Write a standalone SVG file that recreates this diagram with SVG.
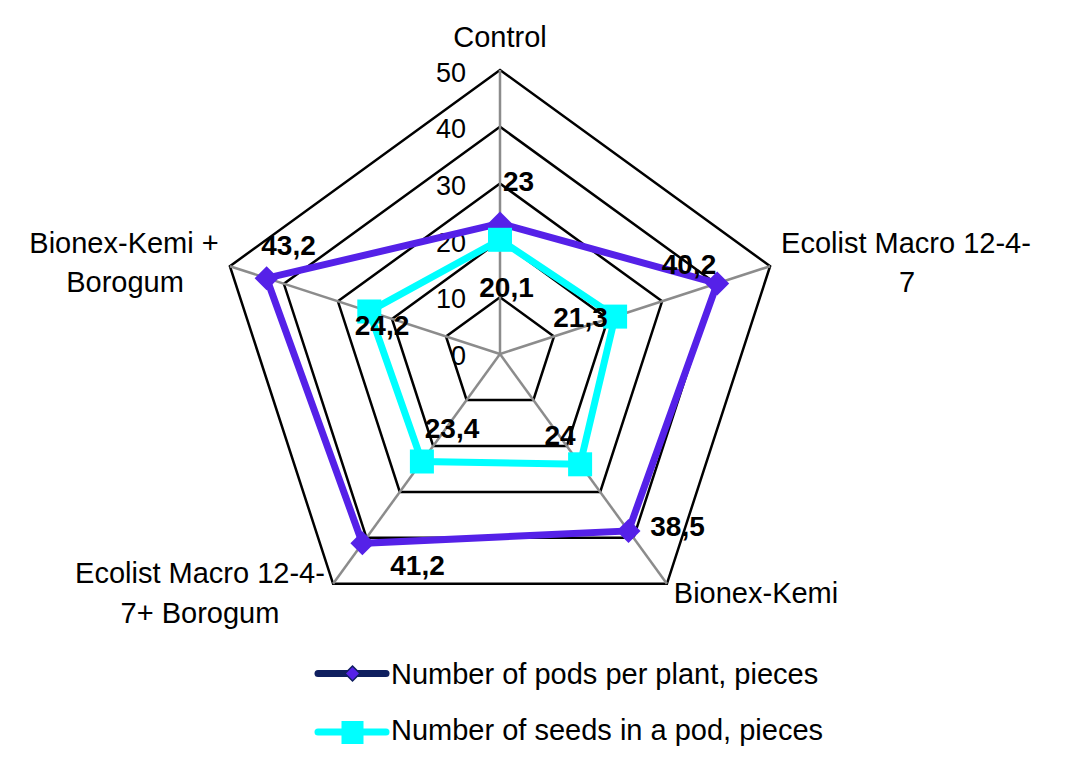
<svg xmlns="http://www.w3.org/2000/svg" width="1071" height="757" viewBox="0 0 1071 757">
<style>
.ring{fill:none;stroke:#000;stroke-width:2.5;stroke-linejoin:miter}
.spoke{stroke:#8c8c8c;stroke-width:2.5}
.t{font-family:"Liberation Sans",Arial,sans-serif;font-size:29px;fill:#000}
.tick{font-family:"Liberation Sans",Arial,sans-serif;font-size:27px;fill:#000;text-anchor:end}
.v{font-family:"Liberation Sans",Arial,sans-serif;font-size:28px;font-weight:bold;fill:#000;text-anchor:middle}
.m{text-anchor:middle}
.pods{fill:none;stroke:#5521E8;stroke-width:7;stroke-linejoin:miter}
.seeds{fill:none;stroke:#00FFFF;stroke-width:7;stroke-linejoin:miter}
.dia{fill:#5521E8}
.sq{fill:#00FFFF}
</style>
<defs>
<path id="dmk" d="M0,-12 L12,0 L0,12 L-12,0 Z"/>
<rect id="smk" x="-12" y="-12" width="24" height="24"/>
</defs>
<rect width="1071" height="757" fill="#fff"/>
<g id="grid">
<polygon class="ring" points="500,297.2 554,336.4 533.4,400 466.6,400 446,336.4"/>
<polygon class="ring" points="500,240.4 608,318.9 566.8,445.9 433.2,445.9 392,318.9"/>
<polygon class="ring" points="500,183.6 662.1,301.3 600.2,491.9 399.8,491.9 337.9,301.3"/>
<polygon class="ring" points="500,126.8 716.1,283.8 633.5,537.8 366.5,537.8 283.9,283.8"/>
<polygon class="ring" points="500,70 770.1,266.2 666.9,583.8 333.1,583.8 229.9,266.2"/>
<line class="spoke" x1="500" y1="354" x2="500" y2="70"/>
<line class="spoke" x1="500" y1="354" x2="770.1" y2="266.2"/>
<line class="spoke" x1="500" y1="354" x2="666.9" y2="583.8"/>
<line class="spoke" x1="500" y1="354" x2="333.1" y2="583.8"/>
<line class="spoke" x1="500" y1="354" x2="229.9" y2="266.2"/>
</g>
<g id="ticks">
<text class="tick" x="466" y="82">50</text>
<text class="tick" x="466" y="138">40</text>
<text class="tick" x="466" y="195">30</text>
<text class="tick" x="466" y="252">20</text>
<text class="tick" x="466" y="308">10</text>
<text class="tick" x="466" y="365">0</text>
</g>
<g id="categories">
<text class="t m" x="500" y="47">Control</text>
<text class="t m" x="906" y="253">Ecolist Macro 12-4-</text>
<text class="t m" x="907" y="292">7</text>
<text class="t m" x="756" y="603">Bionex-Kemi</text>
<text class="t m" x="200" y="583">Ecolist Macro 12-4-</text>
<text class="t m" x="200" y="623">7+ Borogum</text>
<text class="t m" x="124" y="253">Bionex-Kemi +</text>
<text class="t m" x="125" y="292">Borogum</text>
</g>
<g id="series-pods">
<polygon class="pods" points="500,223.4 717.2,283.4 628.5,530.9 362.4,543.3 266.6,278.2"/>
<use href="#dmk" class="dia" x="500" y="223.4"/>
<use href="#dmk" class="dia" x="717.2" y="283.4"/>
<use href="#dmk" class="dia" x="628.5" y="530.9"/>
<use href="#dmk" class="dia" x="362.4" y="543.3"/>
<use href="#dmk" class="dia" x="266.6" y="278.2"/>
</g>
<g id="series-seeds">
<polygon class="seeds" points="500,239.8 615.1,316.6 580.1,464.3 421.9,461.5 369.3,311.5"/>
<use href="#smk" class="sq" x="500" y="239.8"/>
<use href="#smk" class="sq" x="615.1" y="316.6"/>
<use href="#smk" class="sq" x="580.1" y="464.3"/>
<use href="#smk" class="sq" x="421.9" y="461.5"/>
<use href="#smk" class="sq" x="369.3" y="311.5"/>
</g>
<g id="labels">
<text class="v" x="518.5" y="191">23</text>
<text class="v" x="689" y="274">40,2</text>
<text class="v" x="677.5" y="536">38,5</text>
<text class="v" x="417.5" y="575">41,2</text>
<text class="v" x="288.5" y="255">43,2</text>
<text class="v" x="506.5" y="297">20,1</text>
<text class="v" x="580.5" y="327">21,3</text>
<text class="v" x="560" y="445">24</text>
<text class="v" x="452" y="438">23,4</text>
<text class="v" x="382" y="335">24,2</text>
</g>
<g id="legend">
<line x1="318" y1="673.5" x2="386" y2="673.5" stroke="#0F1F5F" stroke-width="7" stroke-linecap="round"/>
<path d="M352.5,666 L360,673.5 L352.5,681 L345,673.5 Z" fill="#5521E8" stroke="#0F1F5F" stroke-width="1.5"/>
<text class="t" x="391" y="684">Number of pods per plant, pieces</text>
<line x1="318" y1="732" x2="386" y2="732" stroke="#00FFFF" stroke-width="7" stroke-linecap="round"/>
<rect x="341.5" y="721" width="22" height="23" fill="#00FFFF"/>
<text class="t" x="391" y="740">Number of seeds in a pod, pieces</text>
</g>
</svg>
